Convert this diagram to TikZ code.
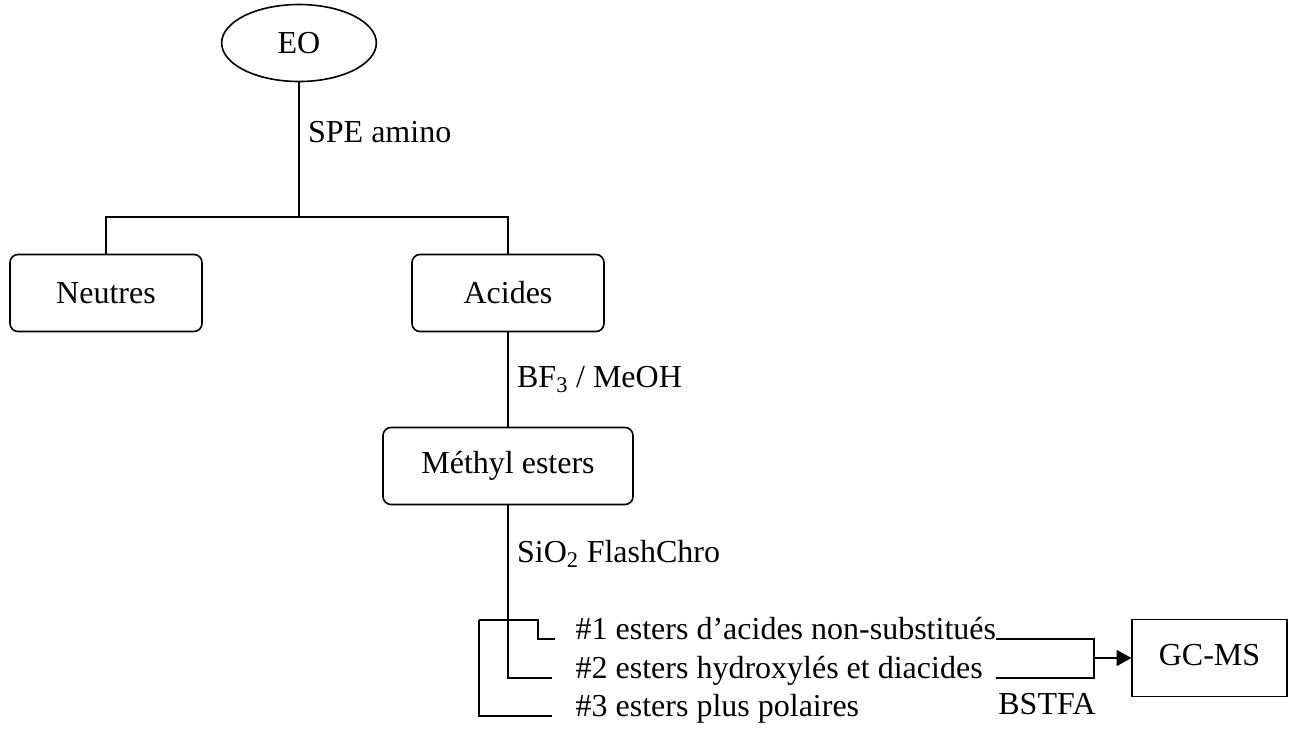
\documentclass[tikz,border=0pt]{standalone}
\usepackage{fontspec}
\setmainfont{Liberation Serif}
\usetikzlibrary{shapes.geometric,arrows.meta}

\begin{document}
\begin{tikzpicture}[x=0.75pt,y=-0.75pt,
    font=\fontsize{24}{28}\selectfont,
    line width=1pt,
    fraction/.style={draw=black,line width=1.2pt,rounded corners=6pt,minimum height=57.75pt},
    label/.style={anchor=base west,inner sep=0pt},
    step label/.style={right,xshift=3pt}]
    \useasboundingbox (0,0) rectangle (1289,729);

    % extracts
    \node[shape=ellipse,draw=black,line width=1.2pt,minimum width=116pt,minimum height=57.75pt] (eo) at (299,43) {EO};
    \node[fraction,minimum width=144pt] (neutres) at (106,293) {Neutres};
    \node[fraction,minimum width=144pt] (acides) at (508,293) {Acides};
    \node[fraction,minimum width=187.5pt] (methyl) at (508,466) {Méthyl esters};
    \node[draw=black,line width=1.2pt,minimum width=116pt,minimum height=57.75pt] (gcms) at (1209.5,658) {\raisebox{5pt}{GC-MS}};

    % fractions
    \node[label] (f1) at (575,639) {\#1 esters d’acides non-substitués};
    \node[label] (f2) at (575,678) {\#2 esters hydroxylés et diacides};
    \node[label] (f3) at (575,716) {\#3 esters plus polaires};
    \node (bstfa) at (1047,704) {BSTFA};

    % junctions
    \coordinate (split) at (299,217);
    \coordinate (b3) at (479,620);
    \coordinate (b1) at (538,620);
    \coordinate (c2) at (508,678);
    \coordinate (r1) at (996,639);
    \coordinate (r2) at (996,678);
    \coordinate (jn) at (1094,658);

    % edges
    \path (eo) edge node[step label,pos=0.37] {SPE amino} (split);
    \draw (neutres.north) |- (split) -| (acides.north);
    \draw (acides) -- node[step label] {BF\textsubscript{3} / MeOH} (methyl);
    \draw (methyl) -- node[step label,pos=0.28] {SiO\textsubscript{2} FlashChro} (c2) -- ([xshift=-17pt]f2.base west);
    \draw (b3) -- (b1) |- ([xshift=-15pt]f1.base west);
    \draw (b3) |- ([xshift=-17pt]f3.base west);
    \draw (r1) -| (jn);
    \draw (r2) -| (jn);
    \draw [-{Triangle[length=11pt,width=12pt]}] (jn) -- (gcms);
\end{tikzpicture}
\end{document}
